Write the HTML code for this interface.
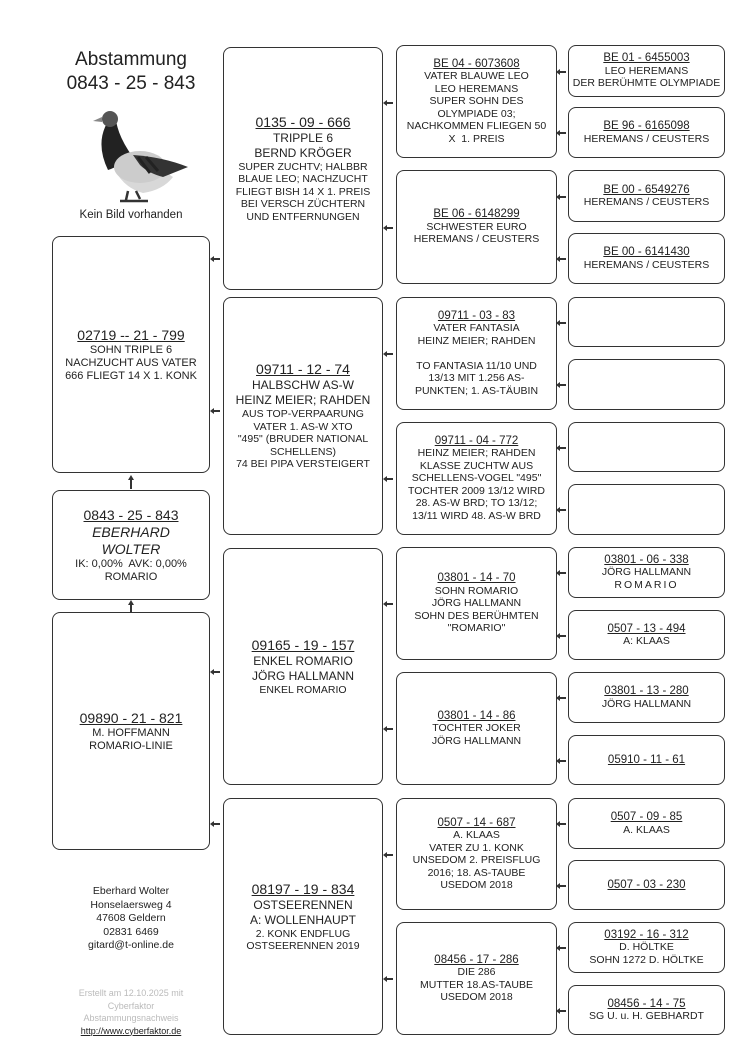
<!DOCTYPE html>
<html><head><meta charset="utf-8"><style>
body{margin:0;width:750px;height:1061px;background:#fff;position:relative;font-family:"Liberation Sans",sans-serif;color:#222;overflow:hidden}
.b{position:absolute;border:1.6px solid #333;border-radius:8px;box-sizing:border-box;display:flex;flex-direction:column;justify-content:center;align-items:center;text-align:center;font-size:10.5px;line-height:12.5px}
.b u{font-size:11.5px}
.n{font-size:14px;line-height:17px;text-decoration:underline}
.c1{font-size:11px;line-height:13px}
.a{position:absolute;width:7px;height:1.5px;background:#333}
.a:before{content:"";position:absolute;left:-3px;top:-2.5px;border-right:4px solid #333;border-top:3px solid transparent;border-bottom:3px solid transparent}
.t{position:absolute;text-align:center}
.up{position:absolute;width:0;height:0;border-bottom:5px solid #333;border-left:3px solid transparent;border-right:3px solid transparent}
</style></head><body>
<div class="t" style="left:42px;top:48px;width:178px;font-size:19px;line-height:24px">Abstammung<br>0843 - 25 - 843</div>
<svg style="position:absolute;left:68px;top:105px" width="120" height="102">
<path d="M40 40 Q45 80 75 88 Q95 85 105 72 L80 55Z" fill="#d8d8d8"/>
<path d="M38 20 Q28 40 40 65 Q55 60 62 48 Q50 30 48 15Z" fill="#222"/>
<ellipse cx="72" cy="62" rx="26" ry="16" fill="#ccc"/>
<path d="M65 50 Q95 52 120 62 L95 72 Q80 68 72 60Z" fill="#333"/>
<path d="M70 52 L82 68 M78 52 L90 66" stroke="#222" stroke-width="3"/>
<circle cx="42" cy="14" r="8" fill="#555"/>
<path d="M34 12 L25 16 L34 17Z" fill="#888"/>
<path d="M60 86 L58 95 M68 86 L72 94 M52 96 L80 96" stroke="#333" stroke-width="2.5"/>
</svg>
<div class="t" style="left:52px;top:209px;width:158px;font-size:11.5px">Kein Bild vorhanden</div>
<div class="t" style="left:52px;top:885px;width:158px;font-size:10.5px;line-height:13.5px">Eberhard Wolter<br>Honselaersweg 4<br>47608 Geldern<br>02831 6469<br>gitard@t-online.de</div>
<div class="t" style="left:52px;top:987px;width:158px;font-size:9px;line-height:12.5px;color:#bbb">Erstellt am 12.10.2025 mit<br>Cyberfaktor<br>Abstammungsnachweis<br><u style="color:#222">http://www.cyberfaktor.de</u></div>

<div class="b c1" style="left:52px;top:236px;width:158px;height:237px"><span class="n">02719 -- 21 - 799</span>SOHN TRIPLE 6<br>NACHZUCHT AUS VATER<br>666 FLIEGT 14 X 1. KONK</div>
<div class="b c1" style="left:52px;top:490px;width:158px;height:110px"><span class="n">0843 - 25 - 843</span><i style="font-size:14px;line-height:17px">EBERHARD<br>WOLTER</i>IK: 0,00%&nbsp; AVK: 0,00%<br>ROMARIO</div>
<div class="b c1" style="left:52px;top:612px;width:158px;height:238px"><span class="n">09890 - 21 - 821</span>M. HOFFMANN<br>ROMARIO-LINIE</div>
<div style="position:absolute;left:130px;top:479px;width:1.5px;height:10px;background:#333"></div>
<div class="up" style="left:127.7px;top:475px"></div>
<div style="position:absolute;left:130px;top:604px;width:1.5px;height:8px;background:#333"></div>
<div class="up" style="left:127.7px;top:600px"></div>

<div class="b" style="left:223px;top:47px;width:160px;height:243px;font-size:10.5px"><span class="n">0135 - 09 - 666</span><span style="font-size:12px;line-height:15px">TRIPPLE 6<br>BERND KRÖGER</span>SUPER ZUCHTV; HALBBR<br>BLAUE LEO; NACHZUCHT<br>FLIEGT BISH 14 X 1. PREIS<br>BEI VERSCH ZÜCHTERN<br>UND ENTFERNUNGEN</div>
<div class="b" style="left:223px;top:297px;width:160px;height:238px"><span class="n">09711 - 12 - 74</span><span style="font-size:12px;line-height:15px">HALBSCHW AS-W<br>HEINZ MEIER; RAHDEN</span>AUS TOP-VERPAARUNG<br>VATER 1. AS-W XTO<br>"495" (BRUDER NATIONAL<br>SCHELLENS)<br>74 BEI PIPA VERSTEIGERT</div>
<div class="b" style="left:223px;top:548px;width:160px;height:237px"><span class="n">09165 - 19 - 157</span><span style="font-size:12px;line-height:15px">ENKEL ROMARIO<br>JÖRG HALLMANN</span>ENKEL ROMARIO</div>
<div class="b" style="left:223px;top:798px;width:160px;height:237px"><span class="n">08197 - 19 - 834</span><span style="font-size:12px;line-height:15px">OSTSEERENNEN<br>A: WOLLENHAUPT</span>2. KONK ENDFLUG<br>OSTSEERENNEN 2019</div>
<div class="a" style="left:213px;top:258px"></div><div class="a" style="left:213px;top:410px"></div>
<div class="a" style="left:213px;top:671px"></div><div class="a" style="left:213px;top:823px"></div>

<div class="b" style="left:396px;top:45px;width:161px;height:113px"><u>BE 04 - 6073608</u>VATER BLAUWE LEO<br>LEO HEREMANS<br>SUPER SOHN DES<br>OLYMPIADE 03;<br>NACHKOMMEN FLIEGEN 50<br>X&nbsp; 1. PREIS</div>
<div class="b" style="left:396px;top:170px;width:161px;height:114px"><u>BE 06 - 6148299</u>SCHWESTER EURO<br>HEREMANS / CEUSTERS</div>
<div class="b" style="left:396px;top:297px;width:161px;height:113px"><u>09711 - 03 - 83</u>VATER FANTASIA<br>HEINZ MEIER; RAHDEN<br><br>TO FANTASIA 11/10 UND<br>13/13 MIT 1.256 AS-<br>PUNKTEN; 1. AS-TÄUBIN</div>
<div class="b" style="left:396px;top:422px;width:161px;height:113px"><u>09711 - 04 - 772</u>HEINZ MEIER; RAHDEN<br>KLASSE ZUCHTW AUS<br>SCHELLENS-VOGEL "495"<br>TOCHTER 2009 13/12 WIRD<br>28. AS-W BRD; TO 13/12;<br>13/11 WIRD 48. AS-W BRD</div>
<div class="b" style="left:396px;top:547px;width:161px;height:113px"><u>03801 - 14 - 70</u>SOHN ROMARIO<br>JÖRG HALLMANN<br>SOHN DES BERÜHMTEN<br>"ROMARIO"</div>
<div class="b" style="left:396px;top:672px;width:161px;height:113px"><u>03801 - 14 - 86</u>TOCHTER JOKER<br>JÖRG HALLMANN</div>
<div class="b" style="left:396px;top:798px;width:161px;height:112px"><u>0507 - 14 - 687</u>A. KLAAS<br>VATER ZU 1. KONK<br>UNSEDOM 2. PREISFLUG<br>2016; 18. AS-TAUBE<br>USEDOM 2018</div>
<div class="b" style="left:396px;top:922px;width:161px;height:113px"><u>08456 - 17 - 286</u>DIE 286<br>MUTTER 18.AS-TAUBE<br>USEDOM 2018</div>
<div class="a" style="left:386px;top:102px"></div><div class="a" style="left:386px;top:227px"></div>
<div class="a" style="left:386px;top:353px"></div><div class="a" style="left:386px;top:478px"></div>
<div class="a" style="left:386px;top:603px"></div><div class="a" style="left:386px;top:728px"></div>
<div class="a" style="left:386px;top:854px"></div><div class="a" style="left:386px;top:978px"></div>

<div class="b" style="left:568px;top:45px;width:157px;height:52px"><u>BE 01 - 6455003</u>LEO HEREMANS<br>DER BERÜHMTE OLYMPIADE</div>
<div class="b" style="left:568px;top:107px;width:157px;height:51px"><u>BE 96 - 6165098</u>HEREMANS / CEUSTERS</div>
<div class="b" style="left:568px;top:170px;width:157px;height:52px"><u>BE 00 - 6549276</u>HEREMANS / CEUSTERS</div>
<div class="b" style="left:568px;top:233px;width:157px;height:51px"><u>BE 00 - 6141430</u>HEREMANS / CEUSTERS</div>
<div class="b" style="left:568px;top:297px;width:157px;height:50px"></div>
<div class="b" style="left:568px;top:359px;width:157px;height:51px"></div>
<div class="b" style="left:568px;top:422px;width:157px;height:50px"></div>
<div class="b" style="left:568px;top:484px;width:157px;height:51px"></div>
<div class="b" style="left:568px;top:547px;width:157px;height:51px"><u>03801 - 06 - 338</u>JÖRG HALLMANN<br><span style="letter-spacing:2px">ROMARIO</span></div>
<div class="b" style="left:568px;top:610px;width:157px;height:50px"><u>0507 - 13 - 494</u>A: KLAAS</div>
<div class="b" style="left:568px;top:672px;width:157px;height:51px"><u>03801 - 13 - 280</u>JÖRG HALLMANN</div>
<div class="b" style="left:568px;top:735px;width:157px;height:50px"><u>05910 - 11 - 61</u></div>
<div class="b" style="left:568px;top:798px;width:157px;height:51px"><u>0507 - 09 - 85</u>A. KLAAS</div>
<div class="b" style="left:568px;top:860px;width:157px;height:50px"><u>0507 - 03 - 230</u></div>
<div class="b" style="left:568px;top:922px;width:157px;height:51px"><u>03192 - 16 - 312</u>D. HÖLTKE<br>SOHN 1272 D. HÖLTKE</div>
<div class="b" style="left:568px;top:985px;width:157px;height:50px"><u>08456 - 14 - 75</u>SG U. u. H. GEBHARDT</div>
<div class="a" style="left:559px;top:71px"></div><div class="a" style="left:559px;top:132px"></div>
<div class="a" style="left:559px;top:196px"></div><div class="a" style="left:559px;top:258px"></div>
<div class="a" style="left:559px;top:322px"></div><div class="a" style="left:559px;top:384px"></div>
<div class="a" style="left:559px;top:447px"></div><div class="a" style="left:559px;top:509px"></div>
<div class="a" style="left:559px;top:572px"></div><div class="a" style="left:559px;top:635px"></div>
<div class="a" style="left:559px;top:697px"></div><div class="a" style="left:559px;top:760px"></div>
<div class="a" style="left:559px;top:823px"></div><div class="a" style="left:559px;top:885px"></div>
<div class="a" style="left:559px;top:947px"></div><div class="a" style="left:559px;top:1010px"></div>
</body></html>
